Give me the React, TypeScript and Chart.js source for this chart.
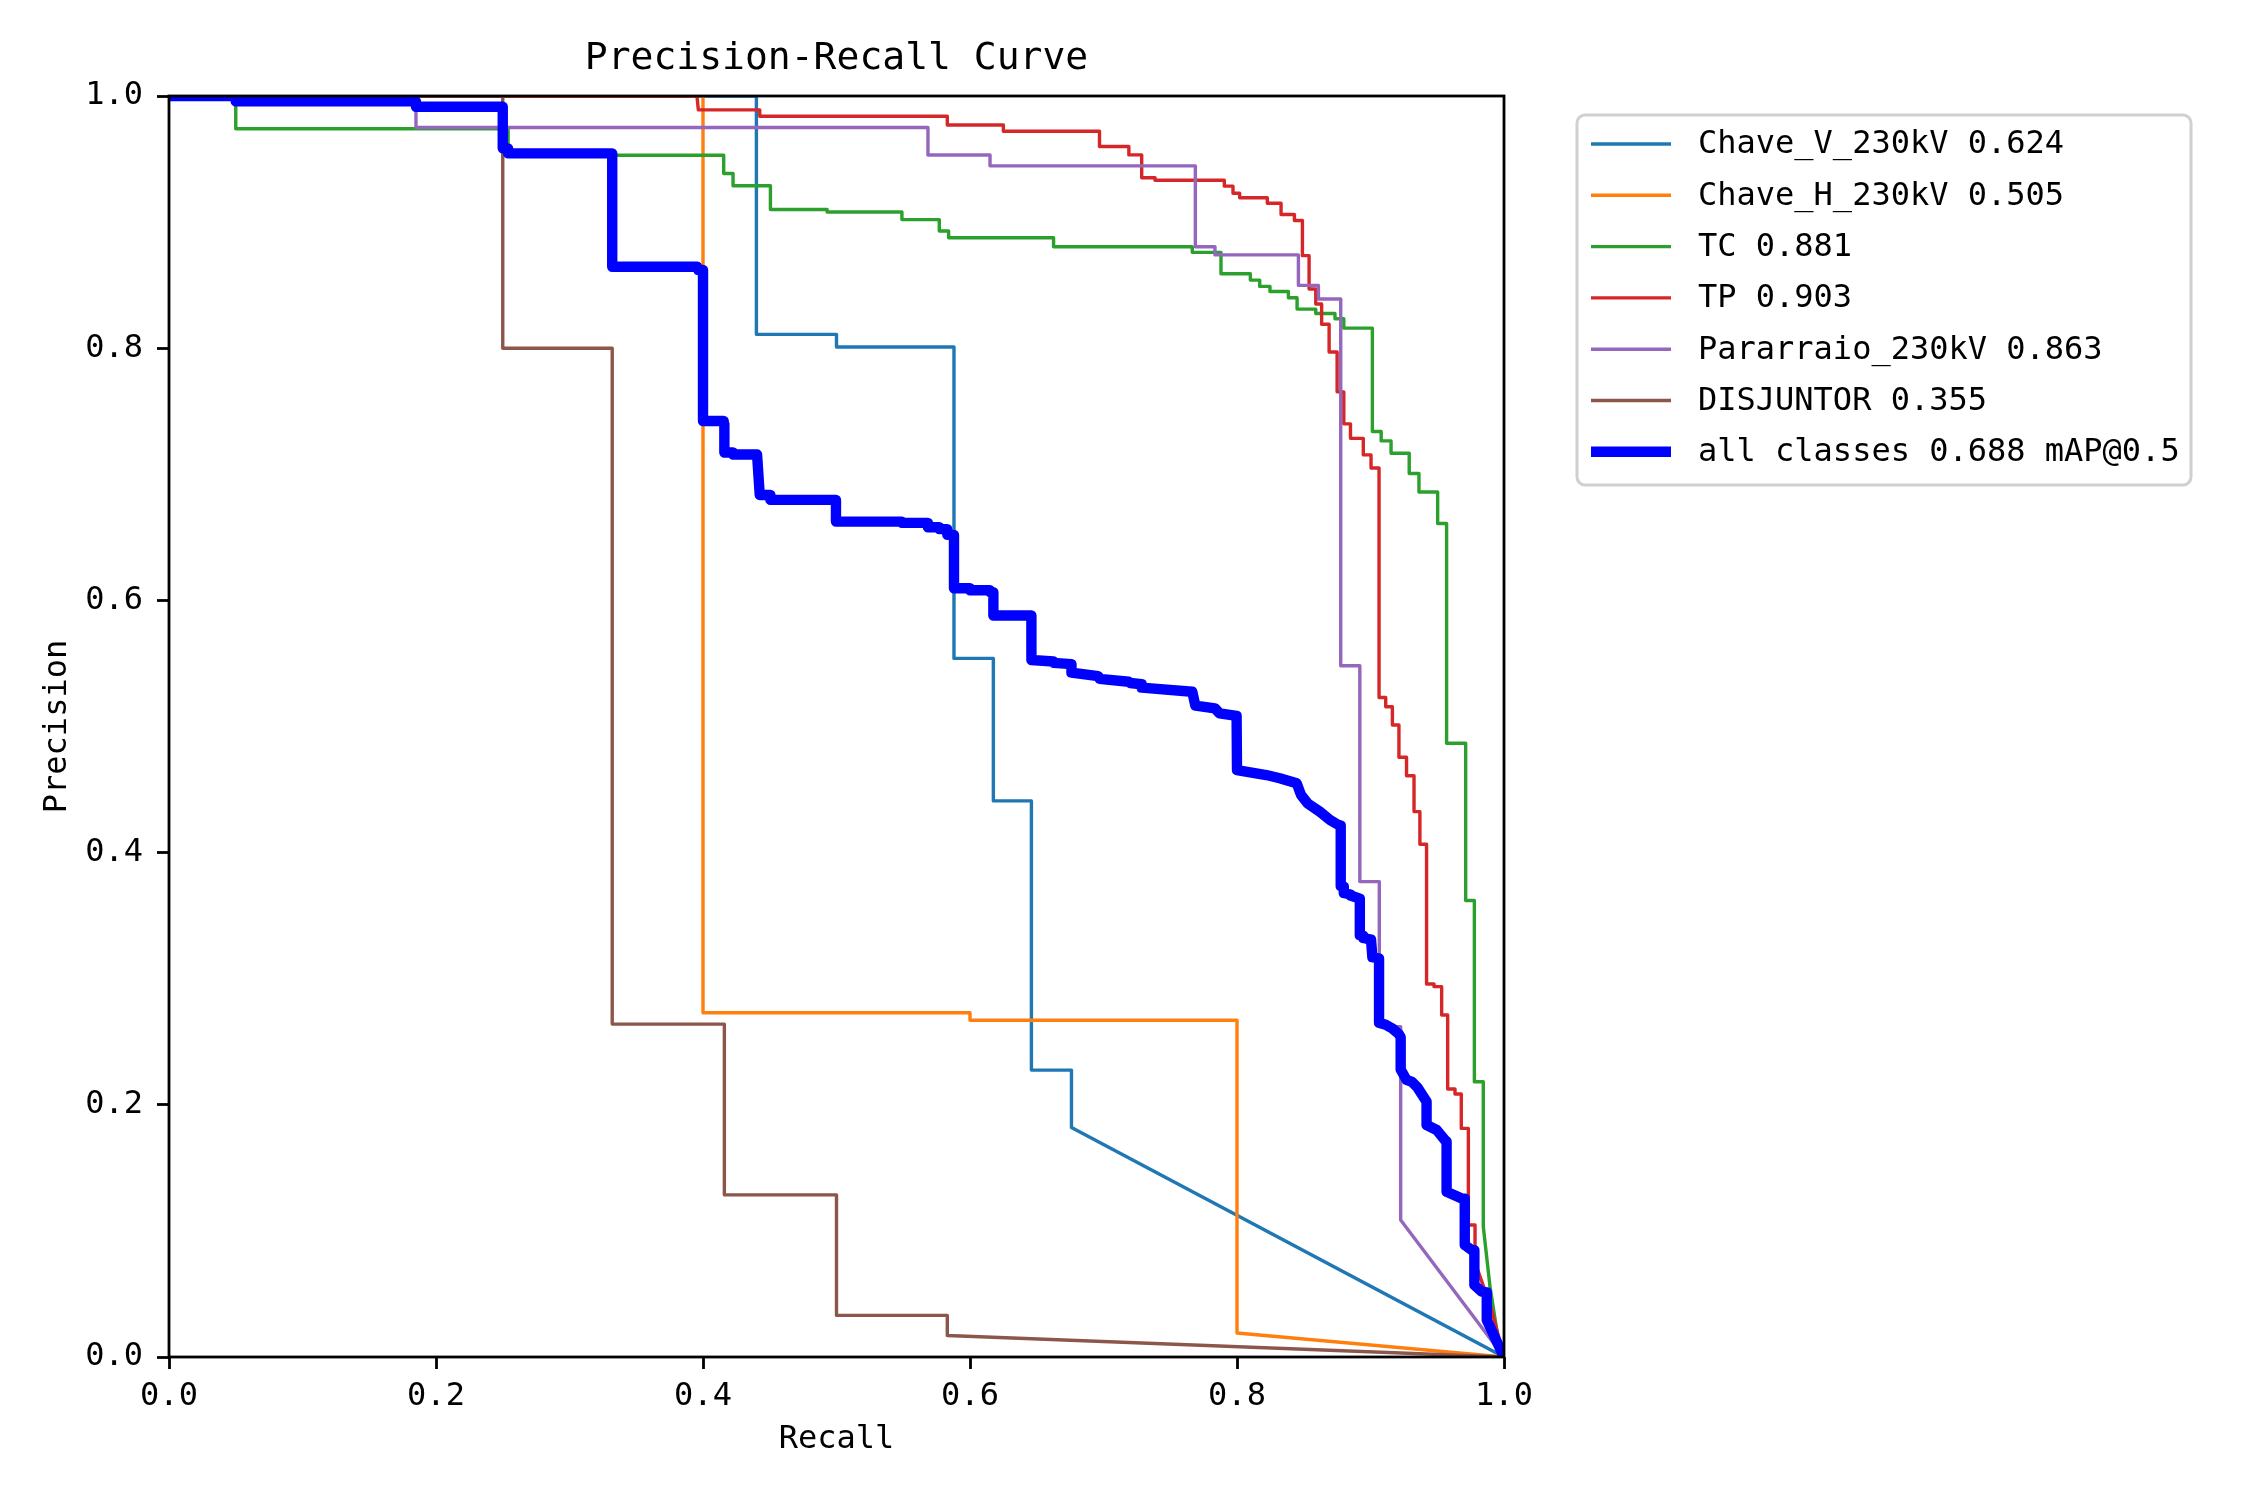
import React, { useEffect, useRef } from 'react';
import { Chart, registerables } from 'chart.js';

Chart.register(...registerables);

const FONT = "'DejaVu Sans Mono', 'Liberation Mono', monospace";

const TITLE = 'Precision-Recall Curve';
const X_LABEL = 'Recall';
const Y_LABEL = 'Precision';

// [recall, precision] points
const CHAVE_V: [number, number][] = [
  [0, 1], [0.44, 1], [0.44, 0.811], [0.5, 0.811], [0.5, 0.801], [0.588, 0.801], [0.588, 0.554],
  [0.6175, 0.554], [0.6175, 0.441], [0.646, 0.441], [0.646, 0.2275], [0.676, 0.2275], [0.676, 0.182],
  [1, 0],
];

const CHAVE_H: [number, number][] = [
  [0, 1], [0.4, 1], [0.4, 0.273], [0.6, 0.273], [0.6, 0.267], [0.8, 0.267], [0.8, 0.019], [1, 0],
];

const TC: [number, number][] = [
  [0, 1], [0.05, 1], [0.05, 0.974], [0.254, 0.974], [0.254, 0.953], [0.4155, 0.953], [0.4155, 0.9386],
  [0.4225, 0.9386], [0.4225, 0.9288], [0.4505, 0.9288], [0.4505, 0.91], [0.493, 0.91], [0.493, 0.908],
  [0.549, 0.908], [0.549, 0.902], [0.577, 0.902], [0.577, 0.893], [0.584, 0.893], [0.584, 0.8876],
  [0.6626, 0.8876], [0.6626, 0.8804], [0.7665, 0.8804], [0.7665, 0.876], [0.788, 0.876], [0.788, 0.859],
  [0.81, 0.859], [0.81, 0.854], [0.817, 0.854], [0.817, 0.849], [0.8247, 0.849], [0.8247, 0.845],
  [0.8385, 0.845], [0.8385, 0.84], [0.845, 0.84], [0.845, 0.831], [0.859, 0.831], [0.859, 0.8275],
  [0.8734, 0.8275], [0.8734, 0.8233], [0.88, 0.8233], [0.88, 0.8159], [0.9014, 0.8159], [0.9014, 0.734],
  [0.908, 0.734], [0.908, 0.7265], [0.9154, 0.7265], [0.9154, 0.7167], [0.929, 0.7167], [0.929, 0.7006],
  [0.9363, 0.7006], [0.9363, 0.686], [0.9503, 0.686], [0.9503, 0.661], [0.957, 0.661], [0.957, 0.4867],
  [0.9713, 0.4867], [0.9713, 0.362], [0.9778, 0.362], [0.9778, 0.2183], [0.9845, 0.2183], [0.9845, 0.1033],
  [0.9895, 0.0558], [0.997, 0.005], [1, 0],
];

const TP: [number, number][] = [
  [0, 1], [0.3955, 1], [0.3965, 0.989], [0.4425, 0.989], [0.4425, 0.984], [0.583, 0.984], [0.583, 0.977],
  [0.625, 0.977], [0.625, 0.972], [0.697, 0.972], [0.697, 0.96], [0.719, 0.96], [0.719, 0.9533],
  [0.7286, 0.9533], [0.7286, 0.9352], [0.7386, 0.9352], [0.7386, 0.9332], [0.7905, 0.9332], [0.7905, 0.9285],
  [0.797, 0.9285], [0.797, 0.9229], [0.802, 0.9229], [0.802, 0.9193], [0.8227, 0.9193], [0.8227, 0.9149],
  [0.833, 0.9149], [0.833, 0.906], [0.843, 0.906], [0.843, 0.9013], [0.849, 0.9013], [0.849, 0.8734],
  [0.854, 0.8734], [0.854, 0.847], [0.859, 0.847], [0.859, 0.835], [0.8634, 0.835], [0.8634, 0.819],
  [0.869, 0.819], [0.869, 0.797], [0.875, 0.797], [0.875, 0.7654], [0.88, 0.7654], [0.88, 0.74],
  [0.885, 0.74], [0.885, 0.7285], [0.8946, 0.7285], [0.8946, 0.7154], [0.9004, 0.7154], [0.9004, 0.705],
  [0.9064, 0.705], [0.9064, 0.523], [0.9114, 0.523], [0.9114, 0.5157], [0.9164, 0.5157], [0.9164, 0.5012],
  [0.9213, 0.5012], [0.9213, 0.4756], [0.927, 0.4756], [0.927, 0.461], [0.9326, 0.461], [0.9326, 0.4325],
  [0.937, 0.4325], [0.937, 0.4066], [0.942, 0.4066], [0.942, 0.2958], [0.9476, 0.2958], [0.9476, 0.2937],
  [0.9533, 0.2937], [0.9533, 0.2712], [0.9578, 0.2712], [0.9578, 0.2125], [0.9633, 0.2125], [0.9633, 0.2086],
  [0.968, 0.2086], [0.968, 0.1813], [0.9733, 0.1813], [0.9733, 0.1047], [0.9783, 0.1047], [0.9783, 0.075],
  [0.99, 0.04], [1, 0],
];

const PARARRAIO: [number, number][] = [
  [0, 1], [0.185, 1], [0.185, 0.975], [0.5685, 0.975], [0.5685, 0.9532], [0.615, 0.9532], [0.615, 0.9446],
  [0.7688, 0.9446], [0.7688, 0.8804], [0.7835, 0.8804], [0.7835, 0.874], [0.846, 0.874], [0.846, 0.8498],
  [0.861, 0.8498], [0.861, 0.839], [0.8777, 0.839], [0.8777, 0.5482], [0.892, 0.5482], [0.892, 0.377],
  [0.9066, 0.377], [0.9066, 0.262], [0.9226, 0.262], [0.9226, 0.1086], [1, 0],
];

const DISJUNTOR: [number, number][] = [
  [0, 1], [0.25, 1], [0.25, 0.8], [0.332, 0.8], [0.332, 0.264], [0.416, 0.264], [0.416, 0.1286],
  [0.5, 0.1286], [0.5, 0.033], [0.583, 0.033], [0.583, 0.017], [1, 0],
];

const ALL_CLASSES: [number, number][] = [
  [0, 1], [0.05, 1], [0.05, 0.9957], [0.185, 0.9957], [0.185, 0.9915], [0.25, 0.9915], [0.25, 0.9585],
  [0.254, 0.9585], [0.254, 0.9545], [0.332, 0.9545], [0.332, 0.8646], [0.3955, 0.8646], [0.3965, 0.862],
  [0.4, 0.862], [0.4, 0.7423], [0.4155, 0.7423], [0.4155, 0.74], [0.416, 0.74], [0.416, 0.7173],
  [0.4225, 0.7173], [0.4225, 0.7157], [0.4405, 0.7157], [0.4425, 0.6836], [0.4505, 0.6836], [0.4505, 0.6797],
  [0.4996, 0.6797], [0.4996, 0.6625], [0.549, 0.6625], [0.549, 0.6615], [0.5685, 0.6615], [0.5685, 0.658],
  [0.577, 0.658], [0.577, 0.6565], [0.583, 0.6565], [0.583, 0.652], [0.588, 0.652], [0.588, 0.6096],
  [0.6, 0.6096], [0.6, 0.608], [0.615, 0.608], [0.615, 0.6066], [0.6175, 0.6066], [0.6175, 0.588],
  [0.646, 0.588], [0.646, 0.5527], [0.6626, 0.5515], [0.6626, 0.5505], [0.676, 0.5495], [0.676, 0.5427],
  [0.696, 0.54], [0.697, 0.5378], [0.719, 0.5355], [0.72, 0.5345], [0.7286, 0.5335], [0.7286, 0.5308],
  [0.7665, 0.5276], [0.7688, 0.5165], [0.7835, 0.5144], [0.787, 0.5104], [0.7997, 0.5085], [0.8, 0.4655],
  [0.822, 0.4615], [0.832, 0.459], [0.8447, 0.455], [0.848, 0.4457], [0.853, 0.439], [0.862, 0.4325],
  [0.8697, 0.4259], [0.8759, 0.422], [0.8777, 0.4215], [0.8777, 0.3735], [0.88, 0.373], [0.88, 0.368],
  [0.885, 0.3668], [0.885, 0.366], [0.892, 0.3635], [0.892, 0.3345], [0.8946, 0.334], [0.8946, 0.3323],
  [0.9004, 0.331], [0.9014, 0.317], [0.9064, 0.316], [0.9064, 0.265], [0.9114, 0.2635], [0.9164, 0.2605],
  [0.9213, 0.256], [0.9226, 0.2535], [0.9226, 0.228], [0.927, 0.2197], [0.9311, 0.2181], [0.935, 0.214],
  [0.942, 0.2025], [0.942, 0.184], [0.9496, 0.18], [0.9558, 0.172], [0.957, 0.171], [0.957, 0.131],
  [0.968, 0.1258], [0.9706, 0.1255], [0.9706, 0.0888], [0.9758, 0.0849], [0.9778, 0.0845], [0.9778, 0.0571],
  [0.9833, 0.0518], [0.9871, 0.0512], [0.9871, 0.0293], [1, 0],
];

const LABELS = [
  'Chave_V_230kV 0.624',
  'Chave_H_230kV 0.505',
  'TC 0.881',
  'TP 0.903',
  'Pararraio_230kV 0.863',
  'DISJUNTOR 0.355',
  'all classes 0.688 mAP@0.5',
];
const COLORS = ['#1f77b4', '#ff7f0e', '#2ca02c', '#d62728', '#9467bd', '#8c564b', '#0000ff'];
const CURVES = [CHAVE_V, CHAVE_H, TC, TP, PARARRAIO, DISJUNTOR, ALL_CLASSES];
const TICKS = [0, 0.2, 0.4, 0.6, 0.8, 1.0];

const THIN = 3.4;
const THICK = 10.4;

// spines, title and matplotlib-style legend drawn on top
const decor = {
  id: 'decor',
  afterDraw(chart: any) {
    const { ctx, chartArea: a } = chart;
    ctx.save();
    ctx.strokeStyle = '#000';
    ctx.lineWidth = 2.8;
    ctx.strokeRect(a.left, a.top, a.right - a.left, a.bottom - a.top);

    ctx.fillStyle = '#000';
    ctx.font = `38px ${FONT}`;
    ctx.textAlign = 'center';
    ctx.textBaseline = 'middle';
    ctx.fillText(TITLE, (a.left + a.right) / 2, a.top - 37);

    const x0 = a.right + 73;
    const y0 = a.top + 19;
    ctx.beginPath();
    ctx.roundRect(x0, y0, 614, 370, 8);
    ctx.fillStyle = 'rgba(255,255,255,0.8)';
    ctx.fill();
    ctx.strokeStyle = '#d0d0d0';
    ctx.lineWidth = 3;
    ctx.stroke();

    ctx.font = `32px ${FONT}`;
    ctx.textAlign = 'left';
    LABELS.forEach((label, i) => {
      const y = y0 + 29 + i * 51.3;
      ctx.beginPath();
      ctx.moveTo(x0 + 14, y);
      ctx.lineTo(x0 + 94, y);
      ctx.strokeStyle = COLORS[i];
      ctx.lineWidth = i === LABELS.length - 1 ? THICK : THIN;
      ctx.stroke();
      ctx.fillStyle = '#000';
      ctx.fillText(label, x0 + 121, y + 1);
    });
    ctx.restore();
  },
};

const App: React.FC = () => {
  const canvasRef = useRef<HTMLCanvasElement>(null);

  useEffect(() => {
    document.body.style.margin = '0';
    if (!canvasRef.current) return;
    Chart.defaults.font.family = FONT;
    Chart.defaults.color = '#000';

    const axisBase = {
      type: 'linear' as const,
      min: 0,
      max: 1,
      afterBuildTicks: (scale: any) => {
        scale.ticks = TICKS.map((value) => ({ value }));
      },
      grid: {
        drawOnChartArea: false,
        drawTicks: true,
        tickLength: 12,
        tickWidth: 2.8,
        tickColor: '#000',
      },
      border: { display: false },
    };

    const chart = new Chart(canvasRef.current, {
      type: 'line',
      data: {
        datasets: CURVES.map((pts, i) => ({
          label: LABELS[i],
          data: pts.map(([x, y]) => ({ x, y })),
          borderColor: COLORS[i],
          backgroundColor: COLORS[i],
          borderWidth: i === CURVES.length - 1 ? THICK : THIN,
          borderJoinStyle: 'round' as const,
          pointRadius: 0,
          tension: 0,
          fill: false,
          clip: 0,
          order: CURVES.length - i,
        })),
      },
      options: {
        responsive: false,
        animation: false,
        devicePixelRatio: 1,
        layout: { padding: { left: 29, right: 746, top: 96, bottom: 23 } },
        plugins: {
          legend: { display: false },
          title: { display: false },
          tooltip: { enabled: false },
        },
        scales: {
          x: {
            ...axisBase,
            afterFit: (scale: any) => {
              scale.height = 120;
            },
            ticks: {
              padding: 8,
              maxRotation: 0,
              font: { size: 32 },
              color: '#000',
              callback: (v: any) => Number(v).toFixed(1),
            },
            title: {
              display: true,
              text: X_LABEL,
              color: '#000',
              font: { size: 32 },
              padding: { top: 0, bottom: 18 },
            },
          },
          y: {
            ...axisBase,
            afterFit: (scale: any) => {
              scale.width = 140;
            },
            ticks: {
              padding: 14,
              font: { size: 32 },
              color: '#000',
              callback: (v: any) => Number(v).toFixed(1),
            },
            title: {
              display: true,
              text: Y_LABEL,
              color: '#000',
              font: { size: 32 },
              padding: { top: 9, bottom: 0 },
            },
          },
        },
      },
      plugins: [decor],
    });
    return () => chart.destroy();
  }, []);

  return (
    <div style={{ width: 2250, height: 1500, background: '#fff' }}>
      <canvas ref={canvasRef} width={2250} height={1500} />
    </div>
  );
};

export default App;
